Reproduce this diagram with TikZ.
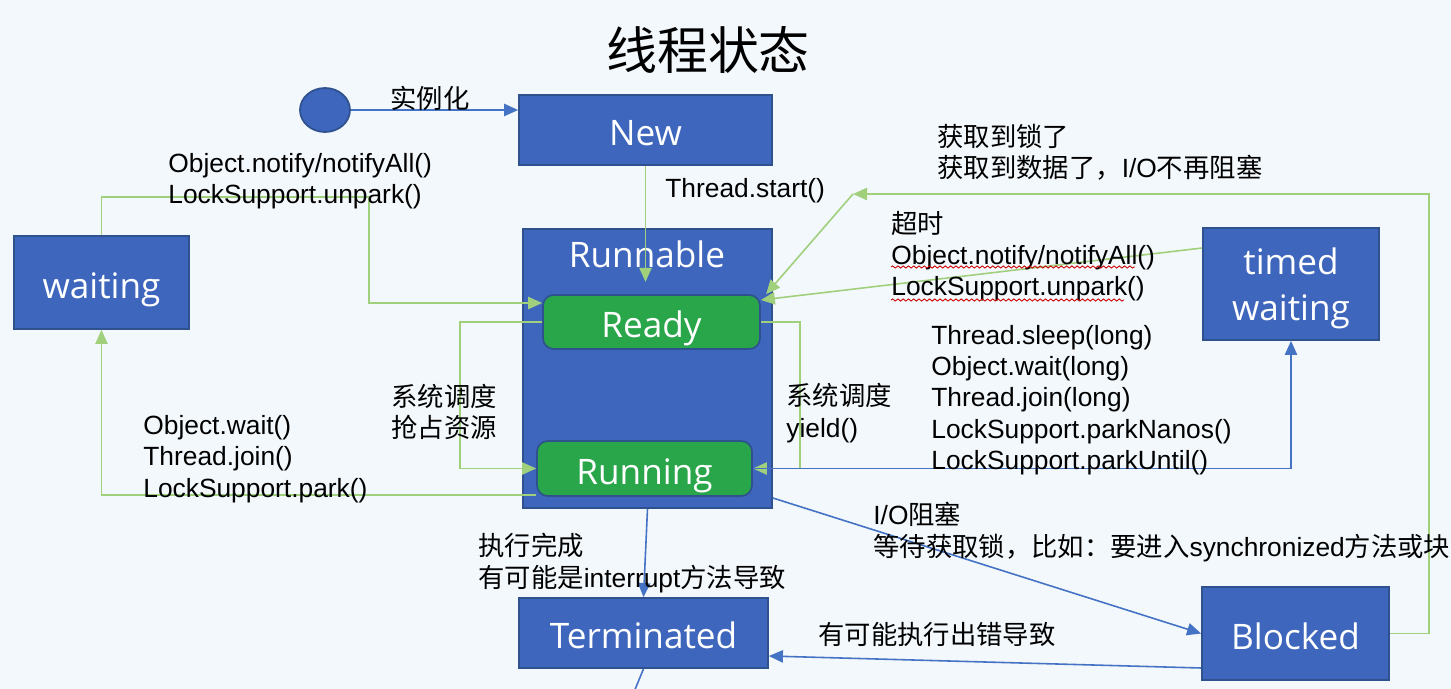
\documentclass[tikz,border=0pt]{standalone}
\usepackage{fontspec}
\setmainfont{Liberation Sans}
\newfontfamily\cjk{Noto Sans CJK SC}
\newfontfamily\boxfont{Open Sans}
\usetikzlibrary{arrows.meta,shapes.geometric,decorations.pathmorphing}
\definecolor{PageBg}{RGB}{243,248,252}
\definecolor{BoxBlue}{RGB}{62,102,189}
\definecolor{BoxLine}{RGB}{47,82,143}
\definecolor{PhaseGreen}{RGB}{42,166,74}
\definecolor{FlowGreen}{RGB}{160,208,124}
\definecolor{FlowBlue}{RGB}{68,114,196}
\newcommand{\cn}[1]{{\cjk #1}}

\begin{document}
\begin{tikzpicture}[x=0.02cm,y=-0.02cm,
  state/.style={rectangle,draw=BoxLine,fill=BoxBlue,line width=1pt,text=white,
    font=\boxfont\fontsize{20}{26}\selectfont,inner sep=0pt,align=center,
    text height=17.7pt,text depth=0pt},
  phase/.style={state,fill=PhaseGreen,rounded corners=6pt},
  note/.style={anchor=west,inner sep=0pt,align=left,font=\fontsize{15}{17.8}\selectfont},
  latin/.style={yshift=-1.7pt},
  gflow/.style={draw=FlowGreen,line width=0.9pt,-{Triangle[length=8pt,width=7pt]}},
  bflow/.style={draw=FlowBlue,line width=0.9pt,-{Triangle[length=8pt,width=7pt]}},
  squiggle/.style={draw=red!80!black,line width=0.5pt,decorate,
    decoration={snake,amplitude=0.6pt,segment length=3pt}}]

% page
\fill[PageBg] (0,0) rectangle (1451,689);
\useasboundingbox (0,0) rectangle (1451,689);

\node[font=\cjk\fontsize{29}{34}\selectfont] (title) at (708,50) {线程状态};

% states
\node[state,ellipse,minimum width=1cm,minimum height=0.82cm] (start) at (325,110) {};
\node[state,minimum width=5.06cm,minimum height=1.4cm] (new) at (645.5,130) {New};
\node[state,minimum width=4.98cm,minimum height=5.58cm] (runnable) at (647.5,368.5) {};
\node[text=white,font=\boxfont\fontsize{20}{26}\selectfont] (runtitle) at (647,254) {Runnable};
\node[phase,minimum width=4.34cm,minimum height=1.08cm] (ready) at (651.5,322) {Ready};
\node[phase,minimum width=4.3cm,minimum height=1.1cm] (running) at (644.5,468.5) {Running};
\node[state,minimum width=3.5cm,minimum height=1.86cm] (waiting) at (101.5,282.5) {waiting};
\node[state,minimum width=3.52cm,minimum height=2.24cm,text height=,text depth=0pt] (timed) at (1291,284) {timed\\waiting};
\node[state,minimum width=4.98cm,minimum height=1.4cm] (terminated) at (643.5,633) {Terminated};
\node[state,minimum width=3.74cm,minimum height=1.86cm] (blocked) at (1295.5,633.5) {Blocked};

% transitions
\draw[bflow] (start) -- (new.west |- start);
\draw[gflow,shorten >=7pt] (new.south) -- (new.south |- ready.north);
\draw[gflow] (waiting.north) |- (369,197) |- (ready.west |- 0,303);
\draw[gflow] (ready.west) -- (460,322) |- (running.west);
\draw[gflow] (ready.east) -- (800,322) |- (running.east);
\draw[bflow] (running.east) -| (timed.south);
\draw[gflow] (timed.west |- 0,248) -- (ready.east |- 0,300);
\coordinate (relay) at (853,194);
\draw[gflow] (blocked.east) -| (1429,194) -- (relay);
\draw[gflow] (relay) -- ([xshift=3pt]ready.north east);
\draw[gflow] (running.west |- 0,495) -| (waiting.south);
\draw[bflow] (runnable.south) -- (terminated.north);
\draw[bflow] (runnable.east |- 0,498) -- (blocked.west);
\draw[bflow] (blocked.west |- 0,668) -- (terminated.east |- 0,656);
\coordinate (offpage) at (634,692);
\draw[FlowBlue,line width=0.9pt] (terminated.south) -- (offpage);

% labels
\node[note] (lblinit) at (390,98) {\cn{实例化}};
\node[note,latin] (lblnotify) at (168,178) {Object.notify/notifyAll()\\LockSupport.unpark()};
\node[note,latin] (lblstart) at (665,188) {Thread.start()};
\node[note] (lblacquire) at (937,152) {\cn{获取到锁了}\\\cn{获取到数据了，}I/O\cn{不再阻塞}};
\node[note] (lbltimeout) at (891,256) {\cn{超时}\\Object.notify/notifyAll()\\LockSupport.unpark()};
\node[note,latin] (lblsleep) at (931,397) {Thread.sleep(long)\\Object.wait(long)\\Thread.join(long)\\LockSupport.parkNanos()\\LockSupport.parkUntil()};
\node[note] (lblpreempt) at (391,412) {\cn{系统调度}\\\cn{抢占资源}};
\node[note] (lblyield) at (786,413) {\cn{系统调度}\\yield()};
\node[note,latin] (lblwait) at (143,456) {Object.wait()\\Thread.join()\\LockSupport.park()};
\node[note] (lbldone) at (478,563) {\cn{执行完成}\\\cn{有可能是}interrupt\cn{方法导致}};
\node[note] (lblio) at (873,532) {I/O\cn{阻塞}\\\cn{等待获取锁，比如：要进入}synchronized\cn{方法或块}};
\node[note] (lblerror) at (818,634) {\cn{有可能执行出错导致}};

% spell-check marks
\draw[squiggle] (891,267) -- (1135,267);
\draw[squiggle] (891,300) -- (1124,300);
\end{tikzpicture}
\end{document}
